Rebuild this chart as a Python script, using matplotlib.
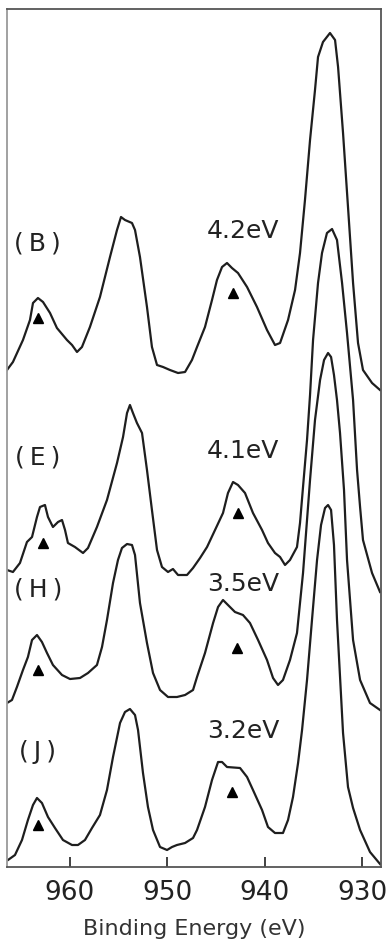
import matplotlib
matplotlib.use("Agg")
import matplotlib.pyplot as plt
import numpy as np

# ---------------- data (binding energy in eV, intensity in arbitrary units) ----------------
spectrum_labels = ["(\u2009B\u2009)", "(\u2009E\u2009)", "(\u2009H\u2009)", "(\u2009J\u2009)"]
satellite_labels = ["4.2eV", "4.1eV", "3.5eV", "3.2eV"]
offsets = [470, 280, 150, 0]

energy_B = [966.47, 965.86, 964.83, 964.11, 963.80, 963.29, 962.77, 962.05, 961.34, 960.31,
            959.79, 959.28, 958.77, 957.95, 956.92, 955.89, 955.17, 954.76, 954.35, 953.63,
            953.32, 952.81, 952.09, 951.58, 951.06, 950.44, 949.73, 948.90, 948.18, 947.47,
            946.95, 946.13, 945.41, 944.90, 944.38, 943.87, 943.36, 942.74, 941.81, 940.79,
            939.76, 938.94, 938.42, 937.60, 936.88, 936.37, 935.86, 935.34, 934.83, 934.52,
            934.01, 933.29, 932.77, 932.46, 931.95, 931.44, 930.92, 930.41, 929.90, 928.97,
            928.15]
intensity_B = [27, 35, 57, 77, 94, 99, 95, 84, 69, 57,
               52, 45, 50, 70, 100, 140, 167, 180, 177, 174,
               167, 140, 90, 50, 32, 30, 27, 24, 25, 37,
               50, 70, 97, 117, 130, 134, 129, 124, 110, 90,
               67, 52, 54, 77, 107, 144, 197, 257, 307, 340,
               355, 364, 357, 330, 264, 190, 114, 54, 27, 14,
               7]

energy_E = [966.47, 965.86, 965.14, 964.42, 963.90, 963.39, 963.08, 962.57, 962.26, 961.75,
            961.23, 960.82, 960.51, 960.21, 959.49, 958.66, 958.15, 957.23, 956.20, 955.17,
            954.55, 954.14, 953.84, 953.53, 953.12, 952.60, 952.09, 951.58, 951.06, 950.55,
            949.93, 949.42, 948.90, 947.98, 947.36, 946.64, 945.92, 945.10, 944.28, 943.77,
            943.25, 942.74, 942.02, 941.20, 940.27, 939.66, 938.94, 938.42, 937.91, 937.40,
            936.68, 936.37, 936.06, 935.65, 935.34, 935.03, 934.52, 934.11, 933.60, 933.08,
            932.57, 932.05, 931.54, 930.92, 930.51, 930.20, 929.90, 928.97, 928.15]
intensity_E = [17, 15, 24, 45, 50, 70, 80, 82, 70, 60,
               65, 67, 57, 44, 40, 34, 39, 60, 87, 124,
               150, 174, 182, 174, 164, 154, 117, 77, 37, 20,
               15, 18, 12, 12, 19, 29, 40, 57, 74, 94,
               105, 102, 94, 74, 57, 44, 34, 30, 22, 27,
               40, 64, 100, 147, 192, 247, 304, 334, 354, 358,
               347, 304, 254, 187, 117, 80, 47, 14, -5]

energy_H = [966.47, 965.96, 965.45, 964.83, 964.32, 963.90, 963.39, 962.88, 962.36, 961.75,
            960.82, 960.00, 958.97, 958.15, 957.23, 956.71, 956.20, 955.58, 955.07, 954.66,
            954.14, 953.63, 953.32, 952.81, 952.09, 951.47, 950.75, 949.93, 949.01, 948.18,
            947.36, 946.95, 946.13, 945.30, 944.79, 944.28, 943.77, 943.05, 942.23, 941.51,
            940.68, 939.76, 939.14, 938.63, 938.12, 937.40, 936.68, 936.37, 936.06, 935.65,
            935.34, 934.83, 934.31, 933.90, 933.49, 933.18, 932.88, 932.57, 932.26, 931.85,
            931.54, 931.23, 930.92, 930.20, 929.18, 928.15]
intensity_H = [14, 17, 30, 47, 60, 77, 82, 75, 64, 52,
               42, 38, 39, 44, 52, 70, 97, 134, 157, 169,
               173, 172, 162, 114, 74, 44, 27, 20, 20, 22,
               27, 40, 64, 94, 110, 117, 112, 105, 102, 94,
               77, 57, 39, 32, 37, 57, 84, 114, 144, 197,
               237, 297, 337, 357, 364, 360, 342, 317, 284, 227,
               157, 117, 77, 37, 14, 7]

energy_J = [966.37, 965.65, 964.93, 964.32, 963.80, 963.39, 962.88, 962.26, 961.54, 960.72,
            959.79, 959.18, 958.46, 957.74, 956.92, 956.20, 955.58, 954.86, 954.35, 953.84,
            953.32, 953.01, 952.50, 951.99, 951.47, 950.75, 950.03, 949.52, 949.01, 948.18,
            947.36, 946.95, 946.13, 945.41, 944.79, 944.38, 943.87, 942.53, 941.81, 941.20,
            940.27, 939.66, 938.94, 938.12, 937.60, 937.09, 936.57, 936.16, 935.65, 935.14,
            934.62, 934.21, 933.80, 933.49, 933.18, 932.88, 932.57, 931.95, 931.44, 930.92,
            930.20, 929.18, 928.15]
intensity_J = [7, 12, 27, 47, 62, 69, 64, 50, 39, 27,
               22, 22, 27, 39, 52, 77, 110, 144, 155, 158,
               152, 137, 94, 60, 37, 20, 17, 20, 22, 24,
               29, 37, 60, 87, 105, 105, 100, 99, 90, 77,
               57, 40, 34, 34, 47, 70, 104, 137, 187, 247,
               307, 342, 359, 362, 357, 322, 247, 134, 80, 59,
               37, 15, 3]

# satellite markers (triangles): energies and intensities (relative to each spectrum offset)
marker_energy = [[963.29, 943.25], [962.77, 942.74], [963.29, 942.84], [963.29, 943.36]]
marker_intensity = [[79, 104], [44, 74], [47, 69], [42, 75]]

tick_values = [960, 950, 940, 930]

# ---------------- drawing ----------------
plt.rcParams['font.family'] = ['DejaVu Sans']
W, H = 390, 948
fig = plt.figure(figsize=(W / 100, H / 100), dpi=100)
ax = fig.add_axes([7 / W, 81 / H, 374 / W, 858 / H])

energies = [energy_B, energy_E, energy_H, energy_J]
intensities = [intensity_B, intensity_E, intensity_H, intensity_J]
line_color = '#1e1e1e'
for e, i, off in zip(energies, intensities, offsets):
    ax.plot(e, np.array(i) + off, color=line_color, lw=1.6, solid_joinstyle='round')

for me, mi, off in zip(marker_energy, marker_intensity, offsets):
    ax.plot(me, np.array(mi) + off, linestyle='none', marker='^', ms=6.5,
            color='black', mec='black')

# labels
label_x = 963.3
sat_x = 942.2
label_y = [153, 129, 128, 115]
sat_y = [166, 136, 133, 136]
for lab, sl, off, ly, sy in zip(spectrum_labels, satellite_labels, offsets, label_y, sat_y):
    ax.text(label_x, off + ly, lab, ha='center', va='center', fontsize=18, color='#222222')
    ax.text(sat_x, off + sy, sl, ha='center', va='center', fontsize=18, color='#222222')

ax.set_xlim(966.47, 928.05)
ax.set_ylim(0, 858)
ax.set_xticks(tick_values)
ax.set_xticklabels([str(t) for t in tick_values], fontsize=19, color='#222222')
ax.set_yticks([])
ax.tick_params(axis='x', direction='in', length=7, width=1.3, color='#333333', pad=9)
ax.set_xlabel('Binding Energy (eV)', fontsize=16, color='#333333', labelpad=10)
for s in ax.spines.values():
    s.set_color('#555555')
    s.set_linewidth(1.3)
ax.spines['left'].set_color('#9a9a9a')

fig.savefig('out.png', dpi=100)
